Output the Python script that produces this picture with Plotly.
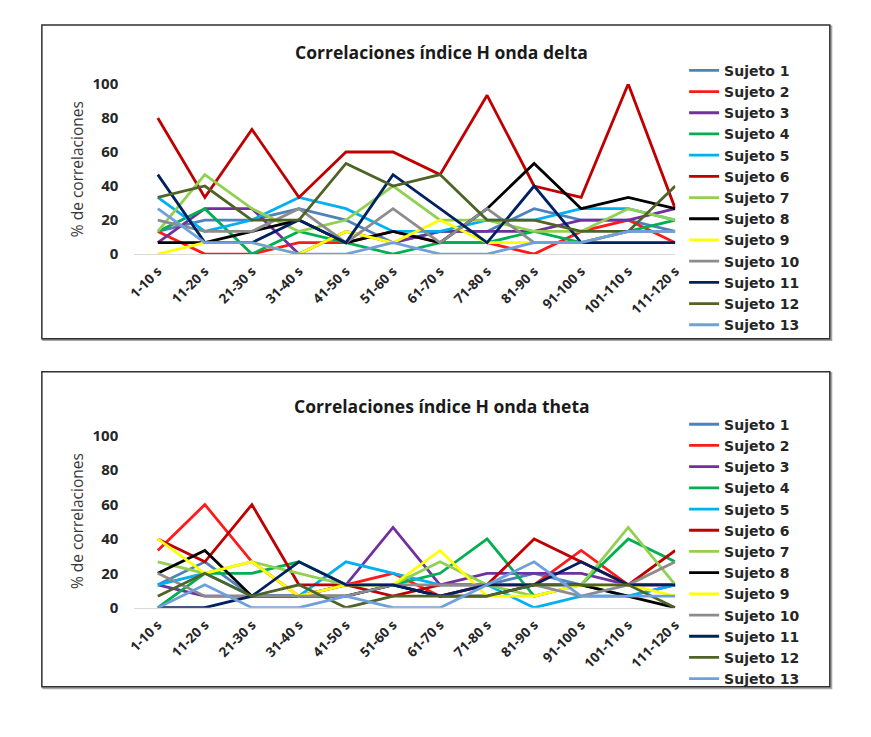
import plotly.graph_objects as go

# The page keeps the browser's default 8 px body margin, so the figure is
# sized to fill the remaining window and positions are given in window pixels.
PAGE_W, PAGE_H = 871, 737
BODY = 8
W, H = PAGE_W - 2 * BODY, PAGE_H - 2 * BODY

# ---- data -------------------------------------------------------------
intervalos = ["1-10 s", "11-20 s", "21-30 s", "31-40 s", "41-50 s", "51-60 s",
              "61-70 s", "71-80 s", "81-90 s", "91-100 s", "101-110 s", "111-120 s"]

sujetos = ["Sujeto 1", "Sujeto 2", "Sujeto 3", "Sujeto 4", "Sujeto 5", "Sujeto 6",
           "Sujeto 7", "Sujeto 8", "Sujeto 9", "Sujeto 10", "Sujeto 11", "Sujeto 12",
           "Sujeto 13"]

colores = ["#4F81BD", "#FF1A1A", "#7030A0", "#00B050", "#00B0F0", "#C00000",
           "#92D050", "#000000", "#FFFF00", "#8C8C8C", "#002060", "#4F6228",
           "#6FA0DC"]

# % de correlaciones, onda delta
delta_s1 = [13.3, 20, 20, 26.7, 20, 6.7, 13.3, 13.3, 26.7, 20, 20, 13.3]
delta_s2 = [13.3, 0, 0, 6.7, 6.7, 13.3, 6.7, 6.7, 0, 13.3, 20, 6.7]
delta_s3 = [6.7, 26.7, 26.7, 0, 13.3, 6.7, 13.3, 13.3, 13.3, 20, 20, 26.7]
delta_s4 = [13.3, 26.7, 0, 13.3, 6.7, 0, 6.7, 6.7, 13.3, 6.7, 13.3, 20]
delta_s5 = [33.3, 13.3, 20, 33.3, 26.7, 13.3, 13.3, 20, 20, 26.7, 26.7, 20]
delta_s6 = [80, 33.3, 73.3, 33.3, 60, 60, 46.7, 93.3, 40, 33.3, 100, 26.7]
delta_s7 = [13.3, 46.7, 26.7, 13.3, 20, 40, 20, 20, 13.3, 13.3, 26.7, 20]
delta_s8 = [6.7, 6.7, 13.3, 20, 6.7, 13.3, 6.7, 26.7, 53.3, 26.7, 33.3, 26.7]
delta_s9 = [0, 6.7, 6.7, 0, 13.3, 6.7, 20, 6.7, 6.7, 6.7, 13.3, 13.3]
delta_s10 = [20, 13.3, 13.3, 26.7, 6.7, 26.7, 6.7, 26.7, 6.7, 6.7, 13.3, 13.3]
delta_s11 = [46.7, 6.7, 6.7, 20, 6.7, 46.7, 26.7, 6.7, 40, 6.7, 6.7, 6.7]
delta_s12 = [33.3, 40, 20, 20, 53.3, 40, 46.7, 20, 20, 13.3, 13.3, 40]
delta_s13 = [26.7, 6.7, 6.7, 0, 0, 6.7, 0, 0, 6.7, 6.7, 13.3, 13.3]

# % de correlaciones, onda theta
theta_s1 = [13.3, 26.7, 6.7, 6.7, 6.7, 13.3, 6.7, 13.3, 20, 13.3, 6.7, 13.3]
theta_s2 = [33.3, 60, 26.7, 6.7, 13.3, 20, 6.7, 13.3, 13.3, 33.3, 13.3, 13.3]
theta_s3 = [13.3, 6.7, 6.7, 6.7, 13.3, 46.7, 13.3, 20, 20, 20, 13.3, 13.3]
theta_s4 = [0, 20, 20, 26.7, 13.3, 13.3, 20, 40, 6.7, 13.3, 40, 26.7]
theta_s5 = [13.3, 20, 6.7, 6.7, 26.7, 20, 13.3, 13.3, 0, 6.7, 6.7, 13.3]
theta_s6 = [40, 26.7, 60, 13.3, 13.3, 6.7, 13.3, 13.3, 40, 26.7, 13.3, 33.3]
theta_s7 = [26.7, 20, 26.7, 20, 13.3, 13.3, 26.7, 13.3, 6.7, 13.3, 46.7, 13.3]
theta_s8 = [20, 33.3, 6.7, 6.7, 6.7, 13.3, 6.7, 6.7, 13.3, 13.3, 6.7, 0]
theta_s9 = [40, 20, 26.7, 6.7, 13.3, 13.3, 33.3, 6.7, 6.7, 13.3, 13.3, 6.7]
theta_s10 = [20, 6.7, 6.7, 6.7, 6.7, 13.3, 13.3, 13.3, 13.3, 6.7, 13.3, 26.7]
theta_s11 = [0, 0, 6.7, 26.7, 13.3, 13.3, 6.7, 13.3, 13.3, 26.7, 13.3, 13.3]
theta_s12 = [6.7, 20, 6.7, 13.3, 0, 6.7, 6.7, 6.7, 13.3, 13.3, 13.3, 0]
theta_s13 = [0, 13.3, 0, 0, 6.7, 0, 0, 13.3, 26.7, 6.7, 6.7, 6.7]

delta_series = [delta_s1, delta_s2, delta_s3, delta_s4, delta_s5, delta_s6, delta_s7,
                delta_s8, delta_s9, delta_s10, delta_s11, delta_s12, delta_s13]
theta_series = [theta_s1, theta_s2, theta_s3, theta_s4, theta_s5, theta_s6, theta_s7,
                theta_s8, theta_s9, theta_s10, theta_s11, theta_s12, theta_s13]

y_ticks = [0, 20, 40, 60, 80, 100]
titulos = ["Correlaciones índice H onda delta", "Correlaciones índice H onda theta"]
eje_y = "% de correlaciones"

# ---- helpers: window pixel -> paper ----------------------------------
def fx(px):
    return (px - BODY) / W

def fy(py):
    return 1 - (py - BODY) / H

FONT = "Open Sans, Lato, sans-serif"
LEG_FONT = "DejaVu Sans, Open Sans, sans-serif"
TXT = "#262626"

fig = go.Figure()

for serie, nombre, color in zip(delta_series, sujetos, colores):
    fig.add_trace(go.Scatter(x=intervalos, y=serie, name=nombre, mode="lines",
                             line=dict(color=color, width=2.8),
                             xaxis="x", yaxis="y", legend="legend"))
for serie, nombre, color in zip(theta_series, sujetos, colores):
    fig.add_trace(go.Scatter(x=intervalos, y=serie, name=nombre, mode="lines",
                             line=dict(color=color, width=2.8),
                             xaxis="x2", yaxis="y2", legend="legend2"))

x_dom = [fx(136.7), fx(688)]
xcommon = dict(type="category", range=[-0.5, 11], domain=x_dom, showgrid=False,
               zeroline=False, showline=True, linecolor="#D9D9D9", linewidth=1,
               ticks="", tickangle=-45, ticklabelstandoff=3,
               tickfont=dict(family=FONT, size=13.5, color=TXT, weight="bold"),
               fixedrange=True)
ycommon = dict(range=[0, 100], tickvals=y_ticks, showgrid=False, zeroline=False,
               showline=False, ticks="", ticklabelstandoff=15,
               tickfont=dict(family=FONT, size=15, color=TXT, weight="bold"),
               fixedrange=True)

legcommon = dict(x=fx(697), xanchor="left", yanchor="top", bgcolor="rgba(0,0,0,0)",
                 borderwidth=0, itemwidth=30, tracegroupgap=0,
                 font=dict(family=LEG_FONT, size=14, color=TXT, weight="bold"))

# chart frames with a soft shadow on the right and bottom
shapes = []
for top, bot in [(22.5, 345), (379, 703)]:
    shapes.append(dict(type="rect", xref="paper", yref="paper",
                       x0=fx(44), x1=fx(847), y0=fy(bot + 1.5), y1=fy(top + 1.5),
                       fillcolor="rgba(0,0,0,0)", line=dict(color="#A6A6A6", width=2),
                       layer="below"))
    shapes.append(dict(type="rect", xref="paper", yref="paper",
                       x0=fx(42.5), x1=fx(845.5), y0=fy(bot), y1=fy(top),
                       fillcolor="white", line=dict(color="#303030", width=1.5),
                       layer="below"))

annotations = []
for titulo, ty in zip(titulos, [50, 414]):
    annotations.append(dict(text=titulo, xref="paper", yref="paper", x=fx(450), y=fy(ty),
                            xanchor="center", yanchor="middle", showarrow=False,
                            font=dict(family=FONT, size=17.5, color="#1A1A1A", weight="bold")))
for cy in [171, 533]:
    annotations.append(dict(text=eje_y, xref="paper", yref="paper", x=fx(79), y=fy(cy),
                            xanchor="center", yanchor="middle", textangle=-90,
                            showarrow=False,
                            font=dict(family=FONT, size=15.5, color="#3A3A3A")))

fig.update_layout(
    width=W, height=H, autosize=False,
    margin=dict(l=0, r=0, t=0, b=0),
    paper_bgcolor="white", plot_bgcolor="rgba(0,0,0,0)",
    xaxis=dict(**xcommon, anchor="y"),
    yaxis=dict(**ycommon, domain=[fy(258), fy(83)], anchor="x"),
    xaxis2=dict(**xcommon, anchor="y2"),
    yaxis2=dict(**ycommon, domain=[fy(621.7), fy(445)], anchor="x2"),
    legend=dict(**legcommon, y=fy(53)),
    legend2=dict(**legcommon, y=fy(417)),
    shapes=shapes,
    annotations=annotations,
    showlegend=True,
)

fig.write_html("out.html", config={"displayModeBar": False})
